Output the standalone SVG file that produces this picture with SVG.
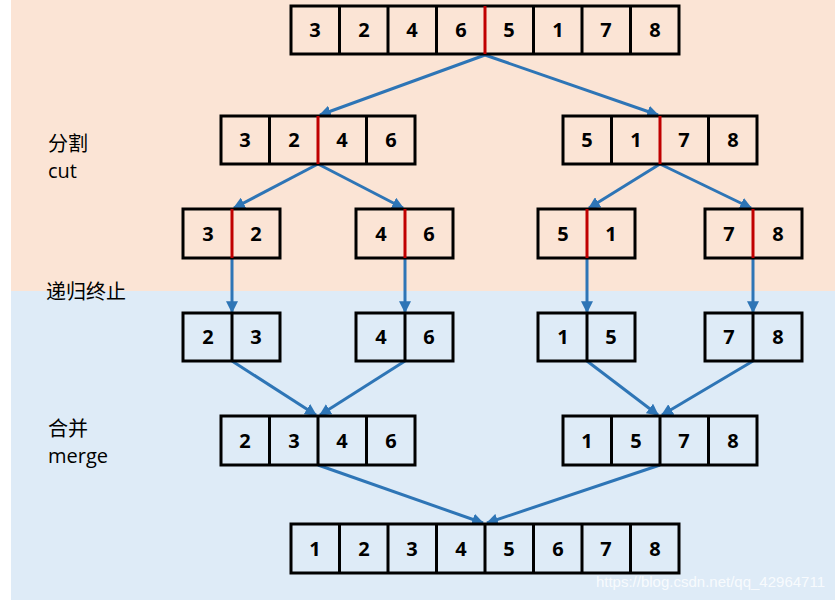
<svg xmlns="http://www.w3.org/2000/svg" width="835" height="600" viewBox="0 0 835 600">
<style>
.c{fill:none;stroke:#000;stroke-width:3}
.r{stroke:#c00000;stroke-width:3}
.n{font-family:"Open Sans","Liberation Sans",sans-serif;font-weight:bold;font-size:20px;text-anchor:middle}
.l{font-family:"Open Sans","Noto Sans CJK SC",sans-serif;font-size:20px}
.a{stroke:#2e75b6;stroke-width:3;fill:none;marker-end:url(#m)}
</style>
<defs>
<marker id="m" viewBox="0 0 10 10" refX="9" refY="5" markerWidth="4" markerHeight="4" orient="auto"><path d="M0,0L10,5L0,10z" fill="#2e75b6"/></marker>
</defs>
<rect width="835" height="600" fill="#fff"/>
<rect x="11" y="0" width="824" height="291" fill="#fbe4d5"/>
<rect x="11" y="291" width="824" height="309" fill="#deebf7"/>
<g id="labels">
<text class="l" x="48" y="151">分割</text>
<text class="l" x="48" y="178">cut</text>
<text class="l" x="46" y="299">递归终止</text>
<text class="l" x="48" y="436">合并</text>
<text class="l" x="48" y="463">merge</text>
</g>
<g id="connectors">
<path class="a" d="M485,55L320,115"/><path class="a" d="M485,55L658,115"/>
<path class="a" d="M318,164L234,208"/><path class="a" d="M318,164L403,208"/>
<path class="a" d="M660,164L589,208"/><path class="a" d="M660,164L751,208"/>
<path class="a" d="M232,258V312"/><path class="a" d="M405,258V312"/><path class="a" d="M587,258V312"/><path class="a" d="M753,258V312"/>
<path class="a" d="M232,361L316,415"/><path class="a" d="M405,361L320,415"/>
<path class="a" d="M587,361L658,415"/><path class="a" d="M753,361L662,415"/>
<path class="a" d="M318,465L483,523"/><path class="a" d="M660,465L487,523"/>
</g>
<g id="row1"><rect class="c" x="291" y="6" width="388" height="48"/>
<path class="c" d="M339.5,6v48M388,6v48M436.5,6v48M533.5,6v48M582,6v48M630.5,6v48"/><path class="r" d="M485,6v48"/>
<g class="n"><text x="315" y="37">3</text><text x="364" y="37">2</text><text x="412" y="37">4</text><text x="461" y="37">6</text><text x="509" y="37">5</text><text x="558" y="37">1</text><text x="606" y="37">7</text><text x="655" y="37">8</text></g></g>
<g id="row2l"><rect class="c" x="221" y="116" width="194" height="48"/><path class="c" d="M269.5,116v48M366.5,116v48"/><path class="r" d="M318,116v48"/>
<g class="n"><text x="245" y="147">3</text><text x="294" y="147">2</text><text x="342" y="147">4</text><text x="391" y="147">6</text></g></g>
<g id="row2r"><rect class="c" x="563" y="116" width="194" height="48"/><path class="c" d="M611.5,116v48M708.5,116v48"/><path class="r" d="M660,116v48"/>
<g class="n"><text x="587" y="147">5</text><text x="636" y="147">1</text><text x="684" y="147">7</text><text x="733" y="147">8</text></g></g>
<g id="row3">
<rect class="c" x="183" y="209" width="97" height="49"/><path class="r" d="M232,209v49"/>
<rect class="c" x="356" y="209" width="97" height="49"/><path class="r" d="M405,209v49"/>
<rect class="c" x="538" y="209" width="97" height="49"/><path class="r" d="M587,209v49"/>
<rect class="c" x="705" y="209" width="97" height="49"/><path class="r" d="M753,209v49"/>
<g class="n"><text x="208" y="241">3</text><text x="256" y="241">2</text><text x="381" y="241">4</text><text x="429" y="241">6</text><text x="563" y="241">5</text><text x="611" y="241">1</text><text x="729" y="241">7</text><text x="778" y="241">8</text></g></g>
<g id="row4">
<rect class="c" x="183" y="313" width="97" height="48"/><path class="c" d="M232,313v48"/>
<rect class="c" x="356" y="313" width="97" height="48"/><path class="c" d="M405,313v48"/>
<rect class="c" x="538" y="313" width="97" height="48"/><path class="c" d="M587,313v48"/>
<rect class="c" x="705" y="313" width="97" height="48"/><path class="c" d="M753,313v48"/>
<g class="n"><text x="208" y="344">2</text><text x="256" y="344">3</text><text x="381" y="344">4</text><text x="429" y="344">6</text><text x="563" y="344">1</text><text x="611" y="344">5</text><text x="729" y="344">7</text><text x="778" y="344">8</text></g></g>
<g id="row5l"><rect class="c" x="221" y="416" width="194" height="49"/><path class="c" d="M269.5,416v49M318,416v49M366.5,416v49"/>
<g class="n"><text x="245" y="448">2</text><text x="294" y="448">3</text><text x="342" y="448">4</text><text x="391" y="448">6</text></g></g>
<g id="row5r"><rect class="c" x="563" y="416" width="194" height="49"/><path class="c" d="M611.5,416v49M660,416v49M708.5,416v49"/>
<g class="n"><text x="587" y="448">1</text><text x="636" y="448">5</text><text x="684" y="448">7</text><text x="733" y="448">8</text></g></g>
<g id="row6"><rect class="c" x="291" y="524" width="388" height="49"/>
<path class="c" d="M339.5,524v49M388,524v49M436.5,524v49M485,524v49M533.5,524v49M582,524v49M630.5,524v49"/>
<g class="n"><text x="315" y="556">1</text><text x="364" y="556">2</text><text x="412" y="556">3</text><text x="461" y="556">4</text><text x="509" y="556">5</text><text x="558" y="556">6</text><text x="606" y="556">7</text><text x="655" y="556">8</text></g></g>
<text x="825" y="587" text-anchor="end" font-family="Liberation Sans,sans-serif" font-size="15" fill="#fff" fill-opacity="0.8">https://blog.csdn.net/qq_42964711</text>
</svg>
